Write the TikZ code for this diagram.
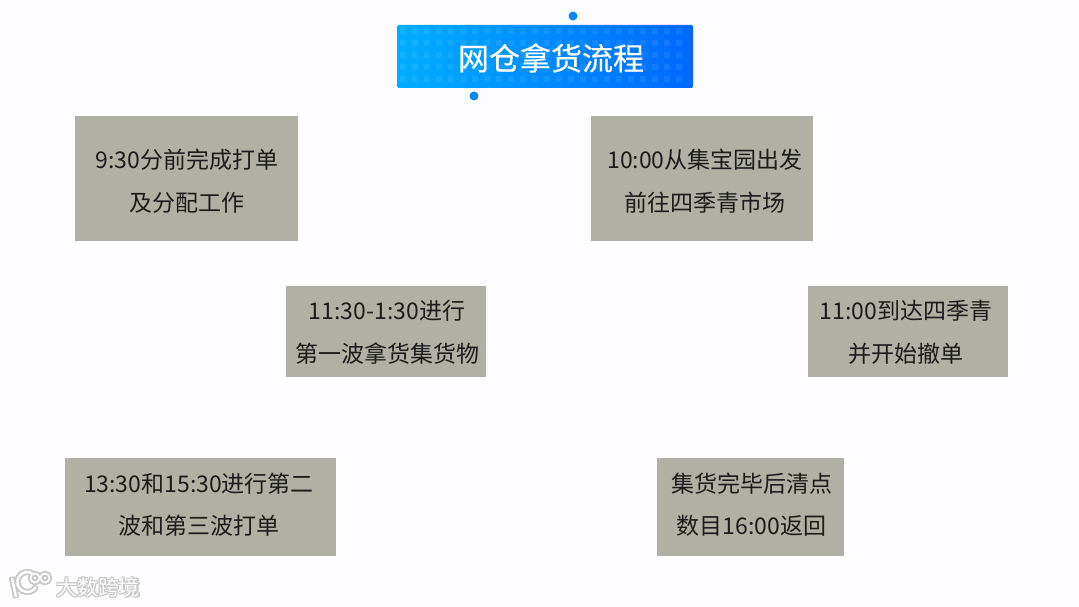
\documentclass[tikz,border=0pt]{standalone}
\usepackage{fontspec}
\setmainfont{Noto Sans CJK SC}
\newfontfamily\titlefont[FakeBold=0.35]{Noto Sans CJK SC}
\usepackage{xcolor}
\usepackage{tikz}
\usetikzlibrary{positioning,calc}
\definecolor{pagebg}{HTML}{FDFDFF}
\definecolor{boxgray}{HTML}{B0B0A4}
\definecolor{boxtext}{HTML}{1C1C1C}
\definecolor{titleleft}{HTML}{00AEFF}
\definecolor{titleright}{HTML}{0068FF}
\definecolor{dotblue}{HTML}{0A86F0}
\definecolor{markhalo}{HTML}{C8C8C8}
\tikzset{
  stepbox/.style={fill=boxgray,inner sep=0pt},
  steptext/.style={inner sep=0pt,align=center,text=boxtext,font=\fontsize{23}{42.5}\selectfont},
  titlebox/.style={left color=titleleft,right color=titleright,rounded corners=1.5pt,inner sep=0pt,minimum width=296,minimum height=63},
  titletext/.style={text=white,inner sep=0pt,font=\titlefont\fontsize{31}{36}\selectfont},
  blobdot/.style={circle,fill=dotblue,inner sep=0pt,minimum size=9},
  markword/.style={inner sep=0pt,font=\fontsize{21}{24}\selectfont}
}
\begin{document}
\begin{tikzpicture}[x=1pt,y=-1pt]
  \useasboundingbox (0,0) rectangle (1079,607);
  \fill[pagebg] (0,0) rectangle (1079,607);
  % title
  \node[titlebox] (title) at (545,56.5) {};
  \foreach \i in {0,...,23}{
    \foreach \j in {0,...,4}{
      \fill[white,opacity=0.07] (400+12*\i,28+12*\j) rectangle ++(6,6);
    }
  }
  \node[titletext] (titlelabel) at (551,58) {网仓拿货流程};
  \node[blobdot] (dottop) at (573,16) {};
  \node[blobdot] (dotbottom) at (474,96) {};
  % left column
  \node[stepbox,minimum width=223,minimum height=125] (print) at (186.5,178.5) {};
  \node[steptext] (printlabel) at (187,181) {9:30分前完成打单\\及分配工作};
  \node[stepbox,minimum width=200,minimum height=91] (firstwave) at (386,331.5) {};
  \node[steptext] (firstwavelabel) at (387,332.5) {11:30-1:30进行\\第一波拿货集货物};
  \node[stepbox,minimum width=271,minimum height=98] (nextwaves) at (200.5,507) {};
  \node[steptext] (nextwaveslabel) at (199,504.5) {13:30和15:30进行第二\\波和第三波打单};
  % right column
  \node[stepbox,minimum width=222,minimum height=125] (depart) at (702,178.5) {};
  \node[steptext] (departlabel) at (705,181) {10:00从集宝园出发\\前往四季青市场};
  \node[stepbox,minimum width=200,minimum height=91] (arrive) at (908,331.5) {};
  \node[steptext] (arrivelabel) at (906,332.5) {11:00到达四季青\\并开始撤单};
  \node[stepbox,minimum width=187,minimum height=98] (back) at (750.5,507) {};
  \node[steptext] (backlabel) at (751.5,504.5) {集货完毕后清点\\数目16:00返回};
  % watermark
  \foreach \dx/\dy in {-1/0,1/0,0/-1,0/1,-1/-1,1/1,-1/1,1/-1}{
    \node[markword,text=markhalo] at (98+\dx,587+\dy) {大数跨境};
    \draw[markhalo,line width=3.6] (12+\dx,578+\dy) -- (16+\dx,597+\dy);
    \draw[markhalo,line width=3.6] (36+\dx,587+\dy) arc (30:300:10);
    \draw[markhalo,line width=2.8] (35+\dx,578+\dy) circle (4.5);
    \draw[markhalo,line width=2.8] (45+\dx,578+\dy) circle (4.5);
  }
  \node[markword,text=white] (markname) at (98,587) {大数跨境};
  \draw[white,line width=2.4] (12,578) -- (16,597);
  \draw[white,line width=2.4] (36,587) arc (30:300:10);
  \draw[white,line width=1.6] (35,578) circle (4.5);
  \draw[white,line width=1.6] (45,578) circle (4.5);
\end{tikzpicture}
\end{document}
